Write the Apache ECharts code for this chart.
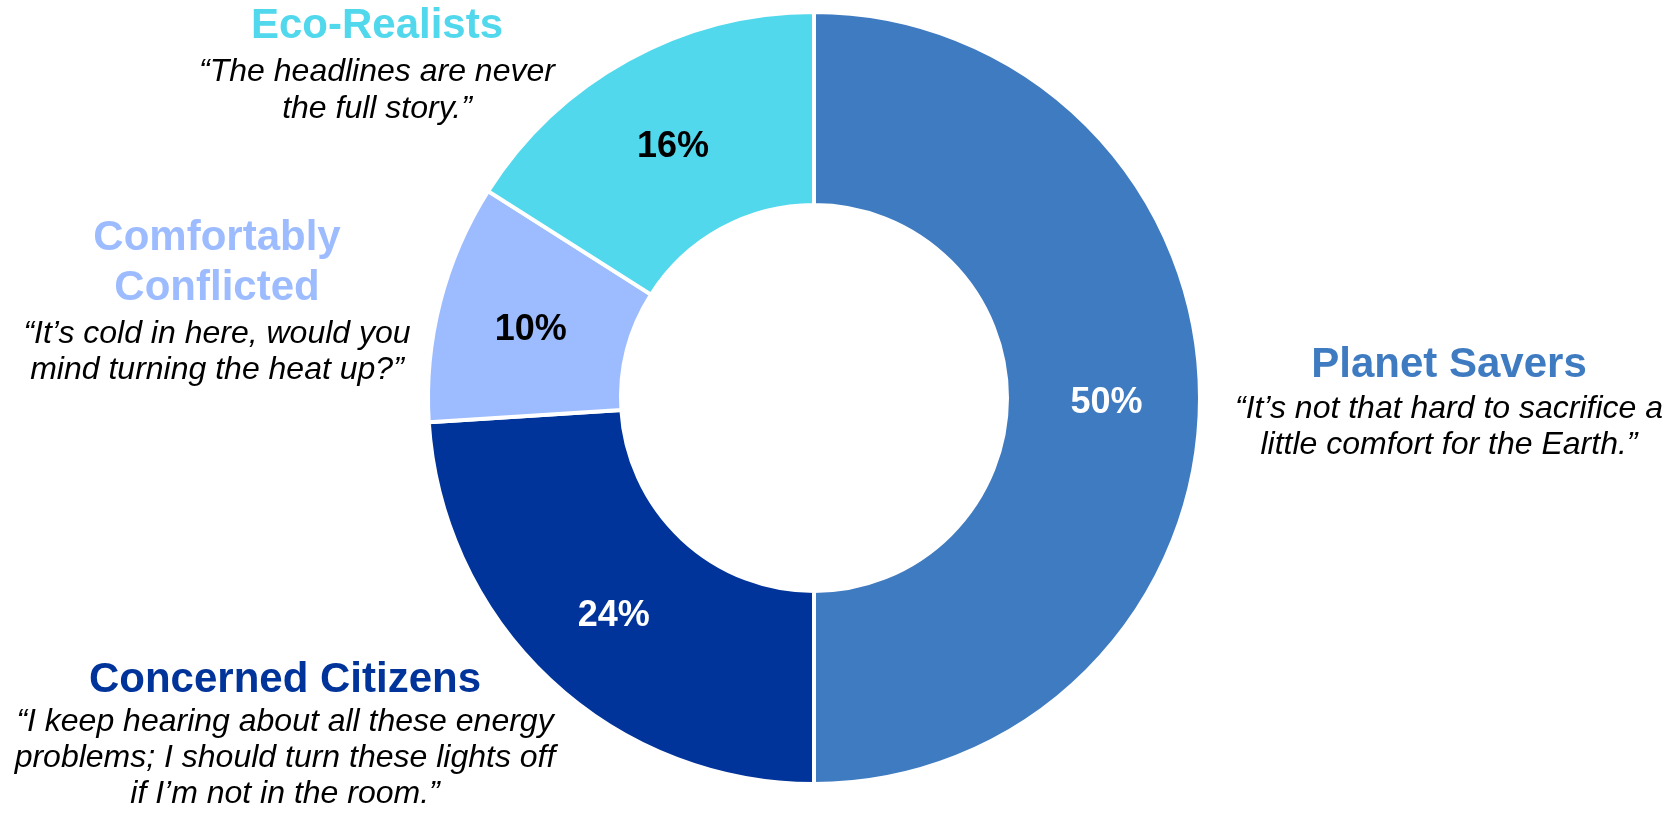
<!DOCTYPE html>
<html>
<head>
<meta charset="utf-8">
<title>Energy attitude segments</title>
<script src="https://cdn.jsdelivr.net/npm/echarts@6/dist/echarts.min.js"></script>
<style>
  html, body { margin: 0; padding: 0; background: #ffffff; }
  #chart { width: 1672px; height: 815px; }
</style>
</head>
<body>
<div id="chart"></div>
<script>
// Segment names, shares (%) and the quote that sums up each segment
const segments = ['Planet Savers', 'Concerned Citizens', 'Comfortably Conflicted', 'Eco-Realists'];
const shares = [50, 24, 10, 16];
const quotes = [
  ['\u201cIt\u2019s not that hard to sacrifice a', 'little comfort for the Earth.\u201d'],
  ['\u201cI keep hearing about all these energy', 'problems; I should turn these lights off', 'if I\u2019m not in the room.\u201d'],
  ['\u201cIt\u2019s cold in here, would you', 'mind turning the heat up?\u201d'],
  ['\u201cThe headlines are never', 'the full story.\u201d']
];

// Styling per segment
const sliceColors = ['#3F7BC1', '#00349A', '#9DBCFF', '#51D8EC'];
const pctColors = ['#ffffff', '#ffffff', '#000000', '#000000'];
const FONT = "Arial, 'Liberation Sans', sans-serif";

// Where each segment's caption block sits: centre x, baselines of the name lines, baselines of the quote lines
const captionLayout = [
  { x: 1449, nameLines: ['Planet Savers'], nameBase: [377], quoteBase: [417, 453] },
  { x: 285, nameLines: ['Concerned Citizens'], nameBase: [692], quoteBase: [730, 766, 802] },
  { x: 217, nameLines: ['Comfortably', 'Conflicted'], nameBase: [250, 300], quoteBase: [342, 378] },
  { x: 377, nameLines: ['Eco-Realists'], nameBase: [38], quoteBase: [80, 117] }
];

const NAME_SIZE = 42;
const QUOTE_SIZE = 32;

// converts a text baseline to the centre line used by verticalAlign: 'middle'
function midFromBase(base, size) {
  return base - size * 0.35 + 3;
}

const graphics = [];
captionLayout.forEach(function (c, i) {
  c.nameLines.forEach(function (line, k) {
    graphics.push({
      type: 'text',
      x: c.x,
      y: midFromBase(c.nameBase[k], NAME_SIZE),
      silent: true,
      style: {
        text: line,
        fill: sliceColors[i],
        font: 'bold ' + NAME_SIZE + 'px ' + FONT,
        align: 'center',
        verticalAlign: 'middle'
      }
    });
  });
  quotes[i].forEach(function (line, k) {
    graphics.push({
      type: 'text',
      x: c.x,
      y: midFromBase(c.quoteBase[k], QUOTE_SIZE),
      silent: true,
      style: {
        text: line,
        fill: '#000000',
        font: 'italic ' + QUOTE_SIZE + 'px ' + FONT,
        align: 'center',
        verticalAlign: 'middle'
      }
    });
  });
});

const chart = echarts.init(document.getElementById('chart'), null, { renderer: 'canvas' });
chart.setOption({
  animation: false,
  backgroundColor: '#ffffff',
  graphic: graphics,
  series: [{
    type: 'pie',
    center: [814, 398],
    radius: [193, 386],
    startAngle: 90,
    clockwise: true,
    avoidLabelOverlap: false,
    silent: true,
    itemStyle: { borderColor: '#ffffff', borderWidth: 4 },
    label: {
      show: true,
      position: 'inside',
      formatter: '{c}%',
      fontFamily: FONT,
      fontWeight: 'bold',
      fontSize: 36,
      offset: [0, 5]
    },
    labelLine: { show: false },
    emphasis: { disabled: true },
    data: segments.map(function (name, i) {
      return {
        name: name,
        value: shares[i],
        itemStyle: { color: sliceColors[i] },
        label: { color: pctColors[i] }
      };
    })
  }]
});
</script>
</body>
</html>
